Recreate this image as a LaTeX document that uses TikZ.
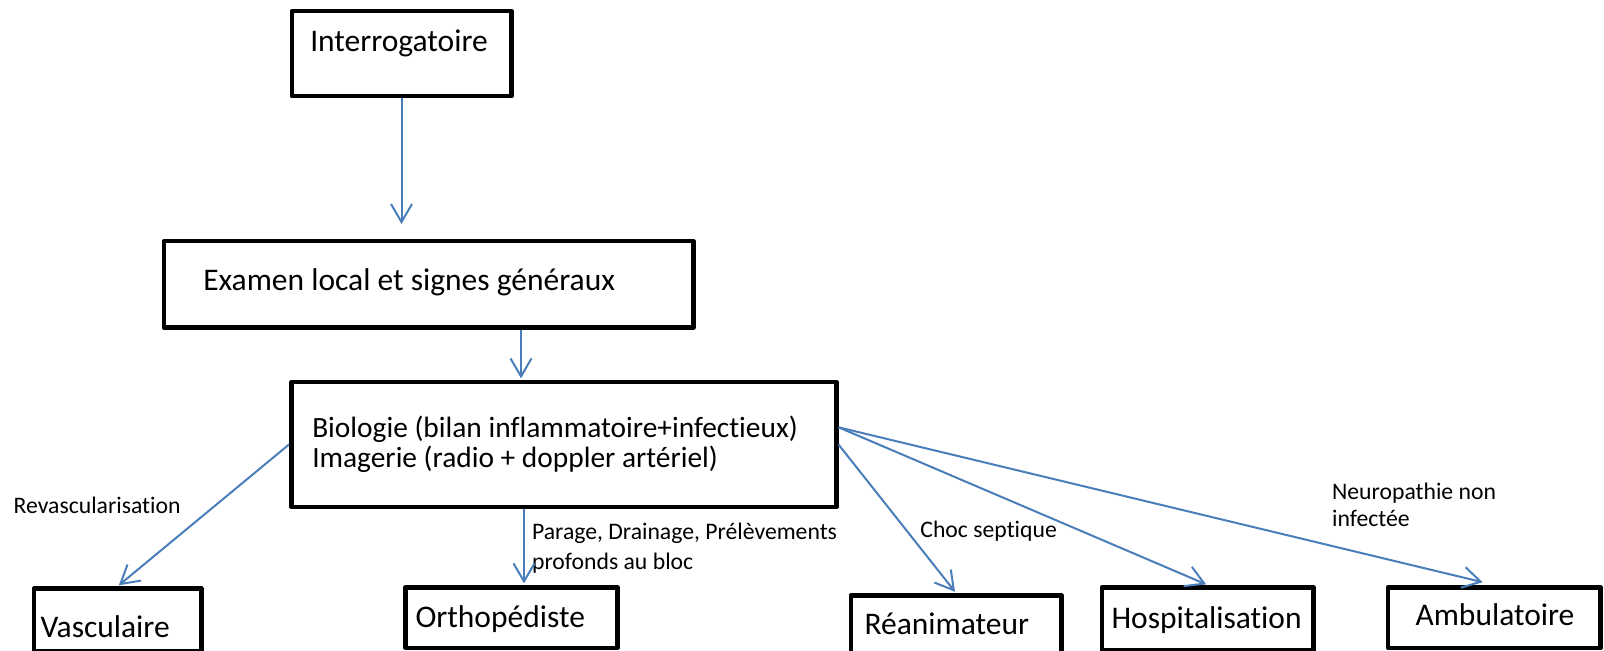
\documentclass[tikz,border=0pt]{standalone}
\usepackage{fontspec}
\setmainfont{Carlito}[Ligatures=NoCommon]
\usetikzlibrary{arrows.meta}
\definecolor{flowblue}{RGB}{74,126,187}
% fonts: box titles, the two-line box, and the connector labels
\newcommand\fbig{\fontsize{15.75}{19}\selectfont}
\newcommand\fmid{\fontsize{14.7}{15}\selectfont}
\newcommand\fsmall{\fontsize{11.85}{15}\selectfont}
% a line of text of fixed width #1, indented by #2
\newcommand\boxline[3]{\makebox[#1][l]{\hspace*{#2}#3}}

\begin{document}
\begin{tikzpicture}[x=0.5pt,y=-0.5pt,
  box/.style={draw=black, line width=2.25pt, line join=round, inner sep=0pt,
    anchor=north west, font=\fbig},
  lbl/.style={inner sep=0pt, anchor=base west, font=\fsmall},
  flow/.style={draw=flowblue, line width=1pt,
    -{Straight Barb[length=9pt,width=10.5pt,line width=1pt]}, shorten >=0.8pt}]

\useasboundingbox[fill=white] (0,0) rectangle (1604,651);
\clip (0,0) rectangle (1604,651);

% boxes
\node[box, minimum width=109.75pt, minimum height=42.5pt,
  text height=20.15pt, text depth=22.35pt] (interro) at (289.5,9)
  {\boxline{109.75pt}{9.25pt}{Interrogatoire}};
\node[box, minimum width=264.75pt, minimum height=43.25pt,
  text height=24.65pt, text depth=18.6pt] (examen) at (161.5,239)
  {\boxline{264.75pt}{19.75pt}{Examen local et signes généraux}};
\node[box, font=\fmid, minimum width=272.5pt, minimum height=62.25pt,
  text height=27.5pt, text depth=34.75pt] (bio) at (289,380)
  {\boxline{272.5pt}{10.5pt}{\begin{tabular}[t]{@{}l@{}}Biologie (bilan inflammatoire+infectieux)\\Imagerie (radio + doppler artériel)\end{tabular}}};
\node[box, minimum width=83.65pt, minimum height=31.2pt,
  text height=24.35pt, text depth=6.85pt] (vasc) at (31.7,586.3)
  {\boxline{83.65pt}{3.3pt}{Vasculaire}};
\node[box, minimum width=106pt, minimum height=30.25pt,
  text height=20pt, text depth=10.25pt] (ortho) at (403,585)
  {\boxline{106pt}{5.15pt}{Orthopédiste}};
\node[box, minimum width=105.25pt, minimum height=34.5pt,
  text height=19.85pt, text depth=14.65pt] (rean) at (848.5,593)
  {\boxline{105.25pt}{6.9pt}{Réanimateur}};
\node[box, minimum width=105.65pt, minimum height=31.5pt,
  text height=20.5pt, text depth=11pt] (hosp) at (1099.7,585)
  {\boxline{105.65pt}{4.8pt}{Hospitalisation}};
\node[box, minimum width=106.25pt, minimum height=30.4pt,
  text height=19.15pt, text depth=11.25pt] (amb) at (1385.8,585)
  {\boxline{106.25pt}{13.75pt}{Ambulatoire}};

% connector labels
\node[lbl] (l-revasc) at (13.3,513.3) {Revascularisation};
\node[lbl] (l-parage) at (531.7,539.3)
  {\begin{tabular}[t]{@{}l@{}}Parage, Drainage, Prélèvements\\profonds au bloc\end{tabular}};
\node[lbl] (l-choc) at (920,537) {Choc septique};
\node[lbl, font=\fontsize{11.85}{13.7}\selectfont] (l-neuro) at (1331.7,499.3)
  {\begin{tabular}[t]{@{}l@{}}Neuropathie non\\infectée\end{tabular}};

% vertical positions of the two off-centre drops
\coordinate (drop1) at (521,0);
\coordinate (drop2) at (524,0);

% connectors
\draw[flow, shorten >=7.5pt] (interro.south) -- (interro.south |- examen.north);
\draw[flow] (examen.south -| drop1) -- (bio.north -| drop1);
\draw[flow] (bio.west) -- (vasc.north);
\draw[flow] (bio.south -| drop2) -- (ortho.north -| drop2);
\draw[flow] (bio.east) -- (rean.north);
\draw[flow] ([yshift=8.6pt]bio.east) -- (hosp.north);
\draw[flow, shorten >=6pt] ([yshift=8.6pt]bio.east) -- (amb.north);
\end{tikzpicture}
\end{document}
